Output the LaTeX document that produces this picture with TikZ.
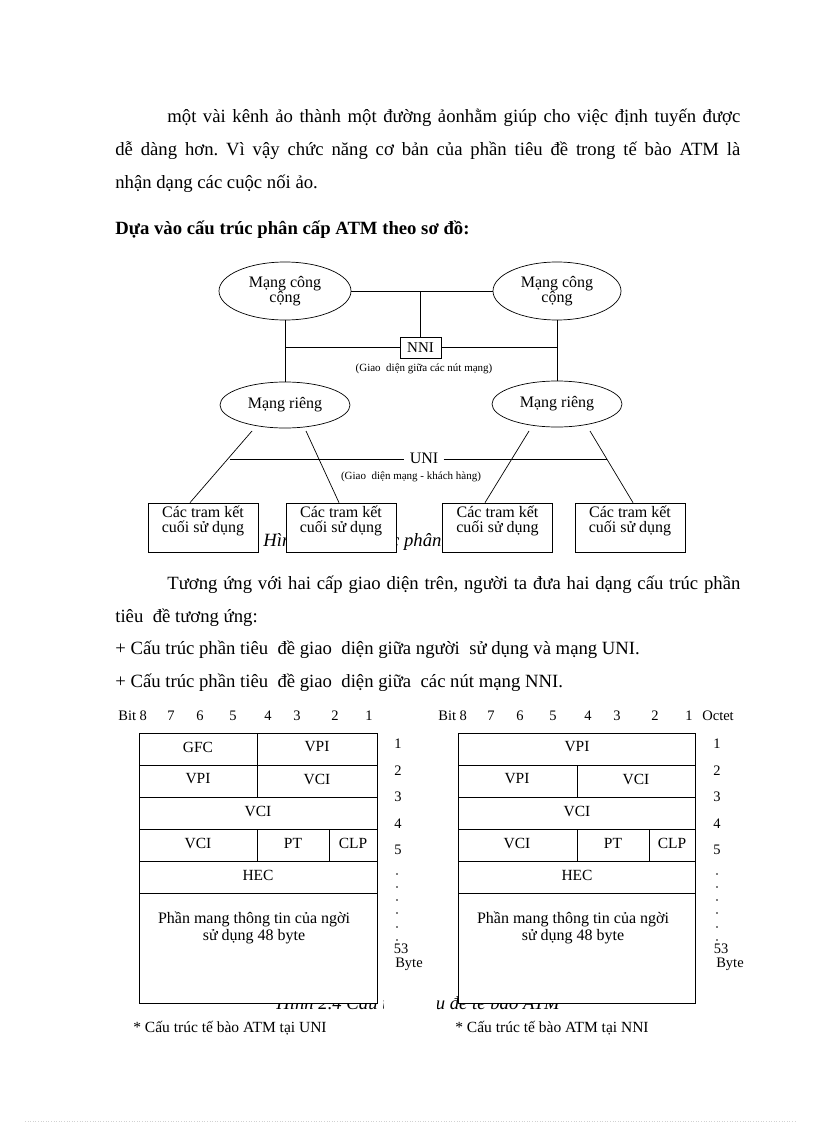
\documentclass[tikz,border=0pt]{standalone}
\usepackage{fontspec}
\setmainfont{Liberation Serif}
\usetikzlibrary{shapes.geometric}
\frenchspacing
\begin{document}
\begin{tikzpicture}[x=1pt,y=-1pt,line width=0.7pt,
  body/.style={anchor=base west,inner sep=0,font=\fontsize{18.7}{22}\selectfont},
  bodyb/.style={anchor=base west,inner sep=0,font=\fontsize{18.7}{22}\selectfont\bfseries},
  net/.style={ellipse,draw,inner sep=0,align=center,font=\fontsize{16}{15.5}\selectfont},
  termbox/.style={draw,fill=white,minimum width=110pt,minimum height=49pt,inner sep=0},
  boxtext/.style={inner sep=0,align=center,font=\fontsize{16}{15}\selectfont},
  small/.style={inner sep=0,font=\fontsize{11}{12}\selectfont},
  cell/.style={inner sep=0,font=\fontsize{15.5}{16}\selectfont},
  hdr/.style={anchor=base,inner sep=0,font=\fontsize{14.5}{15}\selectfont},
  hdrw/.style={anchor=base west,inner sep=0,font=\fontsize{14.5}{15}\selectfont},
  figcap/.style={anchor=base west,inner sep=0,font=\fontsize{18.7}{20}\selectfont\itshape},
  note/.style={anchor=base west,inner sep=0,font=\fontsize{15.5}{16}\selectfont}]
\fill[white] (0,0) rectangle (816,1123);
\useasboundingbox (0,0) rectangle (816,1123);

% ---- body text ----
\node[body] (l1) at (167,123) {\makebox[573pt][s]{một vài kênh ảo thành một đường ảonhằm giúp cho việc định tuyến được}};
\node[body] (l2) at (115,156) {\makebox[625pt][s]{dễ dàng hơn. Vì vậy chức năng cơ bản của phần tiêu đề trong tế bào ATM là}};
\node[body] (l3) at (115,189) {nhận dạng các cuộc nối ảo.};
\node[bodyb] (h1) at (115,235) {Dựa vào cấu trúc phân cấp ATM theo sơ đồ:};

% ---- hierarchy diagram ----
\node[figcap] (cap1) at (263,546) {Hình 2.3 Cấu trúc phân cấp ATM};
\node[net,minimum width=132pt,minimum height=58pt] (pub1) at (285,291) {Mạng công\\cộng};
\node[net,minimum width=128pt,minimum height=58pt] (pub2) at (557,291) {Mạng công\\cộng};
\node[net,minimum width=130pt,minimum height=46pt] (priv1) at (285,405) {Mạng riêng};
\node[net,minimum width=130pt,minimum height=46pt] (priv2) at (557,404) {Mạng riêng};
\node[draw,fill=white,minimum width=41pt,minimum height=21pt,inner sep=0,font=\fontsize{15}{15}\selectfont] (nni) at (420.5,347.5) {NNI};
\node[small] (nnilbl) at (424,369) {(Giao\ \ diện giữa các nút mạng)};
\draw (pub1.east) -- (pub2.west);
\draw (nni.north |- pub1.east) -- (nni.north);
\draw (pub1.south) -- (priv1.north);
\draw (pub2.south) -- (priv2.north);
\draw (nni.west) -- (nni.west -| pub1.south);
\draw (nni.east) -- (nni.east -| pub2.south);

\node[termbox] (t1) at (203,527.5) {};
\node[termbox] (t2) at (341,527.5) {};
\node[termbox] (t3) at (497.5,527.5) {};
\node[termbox] (t4) at (630,527.5) {};
\foreach \b in {t1,t2,t3,t4}{
  \node[boxtext] (\b txt) at ([yshift=7pt]\b.center) {Các tram kết\\cuối sử dụng};
}
\coordinate (s1) at (252,431);
\coordinate (s2) at (306,431);
\coordinate (s3) at (529,431);
\coordinate (s4) at (590,431);
\draw (s1) -- ([xshift=-13pt]t1.north);
\draw (s2) -- ([xshift=-2pt]t2.north);
\draw (s3) -- ([xshift=-12.5pt]t3.north);
\draw (s4) -- ([xshift=3pt]t4.north);
\node[cell,inner xsep=5pt,font=\fontsize{16}{16}\selectfont] (uni) at (424,458) {UNI};
\coordinate (ul) at (230,459);
\coordinate (ur) at (607,459);
\draw (ul) -- (uni.west |- ul);
\draw (uni.east |- ur) -- (ur);
\node[small] (unilbl) at (411,477) {(Giao\ \ diện mạng - khách hàng)};

% ---- second paragraph ----
\node[body] (p1) at (167,589) {\makebox[573pt][s]{Tương ứng với hai cấp giao diện trên, người ta đưa hai dạng cấu trúc phần}};
\node[body] (p2) at (115,622) {tiêu\ \ đề tương ứng:};
\node[body] (p3) at (115,654) {+ Cấu trúc phần tiêu\ \ đề giao\ \ diện giữa người\ \ sử dụng và mạng UNI.};
\node[body] (p4) at (115,687) {+ Cấu trúc phần tiêu\ \ đề giao\ \ diện giữa\ \ các nút mạng NNI.};

% ---- cell structures ----
\node[figcap] (cap2) at (276,1009) {Hình 2.4 Cấu trúc tiêu đề tế bào ATM};
\fill[white] (384,728) rectangle (437,1016);

% headers
\node[hdrw] (lb) at (118,720) {Bit 8};
\foreach \n/\x in {7/171,6/200,5/233,4/268,3/297,2/335,1/369}{\node[hdr] (lh\n) at (\x,720) {\n};}
\node[hdrw] (rb) at (438,720) {Bit 8};
\foreach \n/\x in {7/491,6/520,5/553,4/588,3/617,2/655,1/689}{\node[hdr] (rh\n) at (\x,720) {\n};}
\node[hdrw] (oct) at (702,720) {Octet};

% left table
\draw[fill=white] (139,733) rectangle (377,1003);
\foreach \y in {765,797,829,861,893}{\draw (139,\y) -- (377,\y);}
\draw (257,733) -- (257,797);
\draw (257,829) -- (257,861);
\draw (329,829) -- (329,861);
\node[cell] (lgfc) at (198,747) {GFC};
\node[cell] (lvpi1) at (317,747) {VPI};
\node[cell] (lvpi2) at (198,779) {VPI};
\node[cell] (lvci1) at (317,779) {VCI};
\node[cell] (lvci2) at (258,811) {VCI};
\node[cell] (lvci3) at (198,843) {VCI};
\node[cell] (lpt) at (293,843) {PT};
\node[cell] (lclp) at (353,843) {CLP};
\node[cell] (lhec) at (258,875) {HEC};
\node[boxtext,font=\fontsize{16}{17}\selectfont] (lpay) at (254,928) {Phần mang thông tin của ngời\\sử dụng 48 byte};

% right table
\draw[fill=white] (458,733) rectangle (695,1003);
\foreach \y in {765,797,829,861,893}{\draw (458,\y) -- (695,\y);}
\draw (577,765) -- (577,797);
\draw (577,829) -- (577,861);
\draw (649,829) -- (649,861);
\node[cell] (rvpi1) at (577,747) {VPI};
\node[cell] (rvpi2) at (517,779) {VPI};
\node[cell] (rvci1) at (636,779) {VCI};
\node[cell] (rvci2) at (577,811) {VCI};
\node[cell] (rvci3) at (517,843) {VCI};
\node[cell] (rpt) at (613,843) {PT};
\node[cell] (rclp) at (672,843) {CLP};
\node[cell] (rhec) at (577,875) {HEC};
\node[boxtext,font=\fontsize{16}{17}\selectfont] (rpay) at (573,928) {Phần mang thông tin của ngời\\sử dụng 48 byte};

% octet numbers
\foreach \n/\y in {1/744,2/771,3/797,4/824,5/850}{
  \node[cell,font=\fontsize{14.5}{15}\selectfont] (lo\n) at (398,\y) {\n};
  \node[cell,font=\fontsize{14.5}{15}\selectfont] (ro\n) at (717,\y) {\n};
}
\foreach \y in {874,887,900,913,927,940}{
  \fill (397,\y) circle (0.8pt);
  \fill (717,\y) circle (0.8pt);
}
\node[cell,font=\fontsize{14.5}{15}\selectfont] (l53) at (401,949) {53};
\node[cell,font=\fontsize{14.5}{15}\selectfont] (lbyte) at (409,964) {Byte};
\node[cell,font=\fontsize{14.5}{15}\selectfont] (r53) at (721,949) {53};
\node[cell,font=\fontsize{14.5}{15}\selectfont] (rbyte) at (730,964) {Byte};

\node[note] (nu) at (133,1032) {* Cấu trúc tế bào ATM tại UNI};
\node[note] (nn) at (455,1032) {* Cấu trúc tế bào ATM tại NNI};

\draw[gray!35,dotted,line width=0.6pt] (25,1121) -- (795,1121);
\end{tikzpicture}
\end{document}
